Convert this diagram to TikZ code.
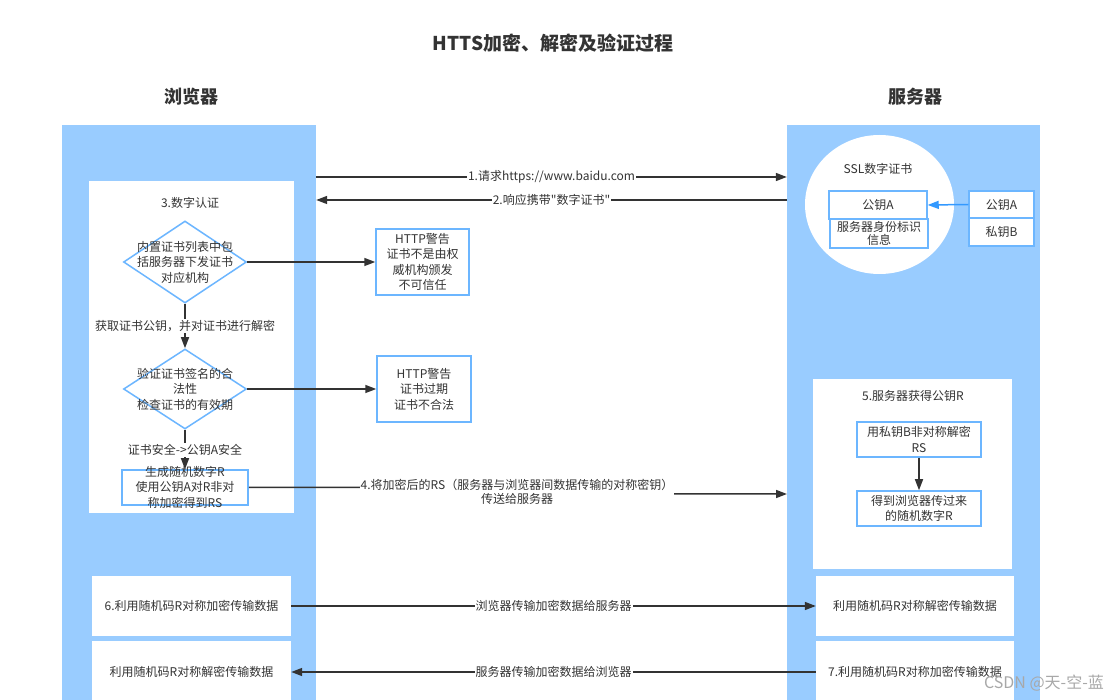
\documentclass[tikz,border=0pt]{standalone}
\usepackage{fontspec}
\setmainfont{Noto Sans CJK SC}[Ligatures=TeXOff]
\usetikzlibrary{shapes.geometric,arrows.meta}
\definecolor{colblue}{HTML}{99CCFF}
\definecolor{bordblue}{HTML}{6CB6FF}
\definecolor{arrblue}{HTML}{3399FF}
\definecolor{txtc}{HTML}{333333}
\definecolor{linec}{HTML}{333333}
\definecolor{wmark}{HTML}{A8A8A8}
\begin{document}
\begin{tikzpicture}[x=1pt,y=-1pt,
  every node/.style={font=\fontsize{12}{15.5}\selectfont, text=txtc, align=center, inner sep=0pt},
  column/.style={fill=colblue, draw=none},
  panel/.style={fill=white, draw=none},
  bbox/.style={draw=bordblue, line width=1.5pt, fill=white},
  dia/.style={diamond, draw=bordblue, line width=1.5pt, fill=white, inner sep=0pt},
  arr/.style={draw=linec, line width=1.5pt, -{Triangle[length=11pt,width=8pt]}},
  barr/.style={draw=arrblue, line width=1.5pt, -{Triangle[length=11pt,width=8pt]}},
  lab/.style={fill=white, inner sep=1pt},
  ttl/.style={font=\fontsize{19}{22}\selectfont\bfseries},
  hdr/.style={font=\fontsize{18}{21}\selectfont\bfseries}
]
\path[use as bounding box, fill=white] (0,0) rectangle (1117,700);

% titles
\node[ttl] (title) at (553,43) {HTTS加密、解密及验证过程};
\node[hdr] (hb) at (191,97) {浏览器};
\node[hdr] (hs) at (915,97) {服务器};

% columns
\node[column, minimum width=254pt, minimum height=575pt] (lcol) at (189,412.5) {};
\node[column, minimum width=253pt, minimum height=575pt] (rcol) at (913.5,412.5) {};

% helper coordinates
\coordinate (y177) at (0,177);
\coordinate (y200) at (0,200);
\coordinate (e4) at (787,494);

% left inner panel
\node[panel, minimum width=205pt, minimum height=332pt] (linner) at (191.5,347) {};
\node (t3) at (190,203) {3.数字认证};

\node[dia, minimum width=123pt, minimum height=82pt] (d1) at (185,262) {};
\node (d1t) at (d1) {内置证书列表中包\\括服务器下发证书\\对应机构};
\node[dia, minimum width=123pt, minimum height=80pt] (d2) at (185,389) {};
\node (d2t) at (d2) {验证证书签名的合\\法性\\检查证书的有效期};
\node[bbox, minimum width=126pt, minimum height=35pt] (b3) at (185,487.5) {};
\node (b3t) at (185,487) {生成随机数字R\\使用公钥A对R非对\\称加密得到RS};

\node[bbox, minimum width=93pt, minimum height=66pt] (h1) at (422.5,262) {};
\node (h1t) at (h1) {HTTP警告\\证书不是由权\\威机构颁发\\不可信任};
\node[bbox, minimum width=94pt, minimum height=66pt] (h2) at (424,389) {};
\node (h2t) at (h2) {HTTP警告\\证书过期\\证书不合法};

% right column: certificate
\node[ellipse, fill=white, minimum width=149pt, minimum height=139pt] (ell) at (879.5,204.5) {};
\node (ssl) at (878,169) {SSL数字证书};
\node[bbox, minimum width=98pt, minimum height=28pt] (pa) at (878,205) {公钥A};
\node[bbox, minimum width=98pt, minimum height=29pt, font=\fontsize{12}{13}\selectfont] (idb) at (879,233.5) {服务器身份标识\\信息};
\node[bbox, minimum width=65pt, minimum height=27pt] (pa2) at (1001.5,204.5) {公钥A};
\node[bbox, minimum width=65pt, minimum height=28pt] (pb) at (1001.5,232) {私钥B};
\draw[barr] (pa2.west) -- (pa.east);

% right inner panel
\node[panel, minimum width=199pt, minimum height=190pt] (rinner) at (912.5,474) {};
\node (t5) at (913,396) {5.服务器获得公钥R};
\node[bbox, minimum width=124pt, minimum height=35pt] (r1) at (919,439.5) {用私钥B非对称解密\\RS};
\node[bbox, minimum width=124pt, minimum height=35pt] (r2) at (919,508.5) {得到浏览器传过来\\的随机数字R};
\draw[arr] (r1.south) -- (r2.north);

% bottom panels
\node[panel, minimum width=199pt, minimum height=60pt] (bl1) at (191.5,606) {6.利用随机码R对称加密传输数据};
\node[panel, minimum width=199pt, minimum height=62pt] (bl2) at (191.5,672) {利用随机码R对称解密传输数据};
\node[panel, minimum width=198pt, minimum height=60pt] (br1) at (915,606) {利用随机码R对称解密传输数据};
\node[panel, minimum width=198pt, minimum height=62pt] (br2) at (915,672) {7.利用随机码R对称加密传输数据};

% connectors
\draw[arr] (lcol.east |- y177) -- (rcol.west |- y177) node[lab, pos=0.5] {1.请求https://www.baidu.com};
\draw[arr] (rcol.west |- y200) -- (lcol.east |- y200) node[lab, pos=0.5] {2.响应携带"数字证书"};

\draw[arr] (d1.east) -- (h1.west);
\draw[arr] (d2.east) -- (h2.west);
\draw[arr] (d1.south) -- (d2.north);
\node[lab] (l1) at (185,326) {获取证书公钥，并对证书进行解密};
\draw[arr] (d2.south) -- (b3.north);
\node[lab] (l2) at (185,450) {证书安全->公钥A安全};

\draw[arr] (b3.east) -- (517,487) |- (e4);
\node[lab, font=\fontsize{12}{14}\selectfont] (l4) at (517,491.5) {4.将加密后的RS（服务器与浏览器间数据传输的对称密钥）\\传送给服务器};

\draw[arr] (bl1.east) -- (br1.west) node[lab, pos=0.5] {浏览器传输加密数据给服务器};
\draw[arr] (br2.west) -- (bl2.east) node[lab, pos=0.5] {服务器传输加密数据给浏览器};

% watermark
\node[anchor=east, text=wmark, font=\fontsize{16}{18}\selectfont] (wm) at (1104,683) {CSDN @天-空-蓝};
\end{tikzpicture}
\end{document}
